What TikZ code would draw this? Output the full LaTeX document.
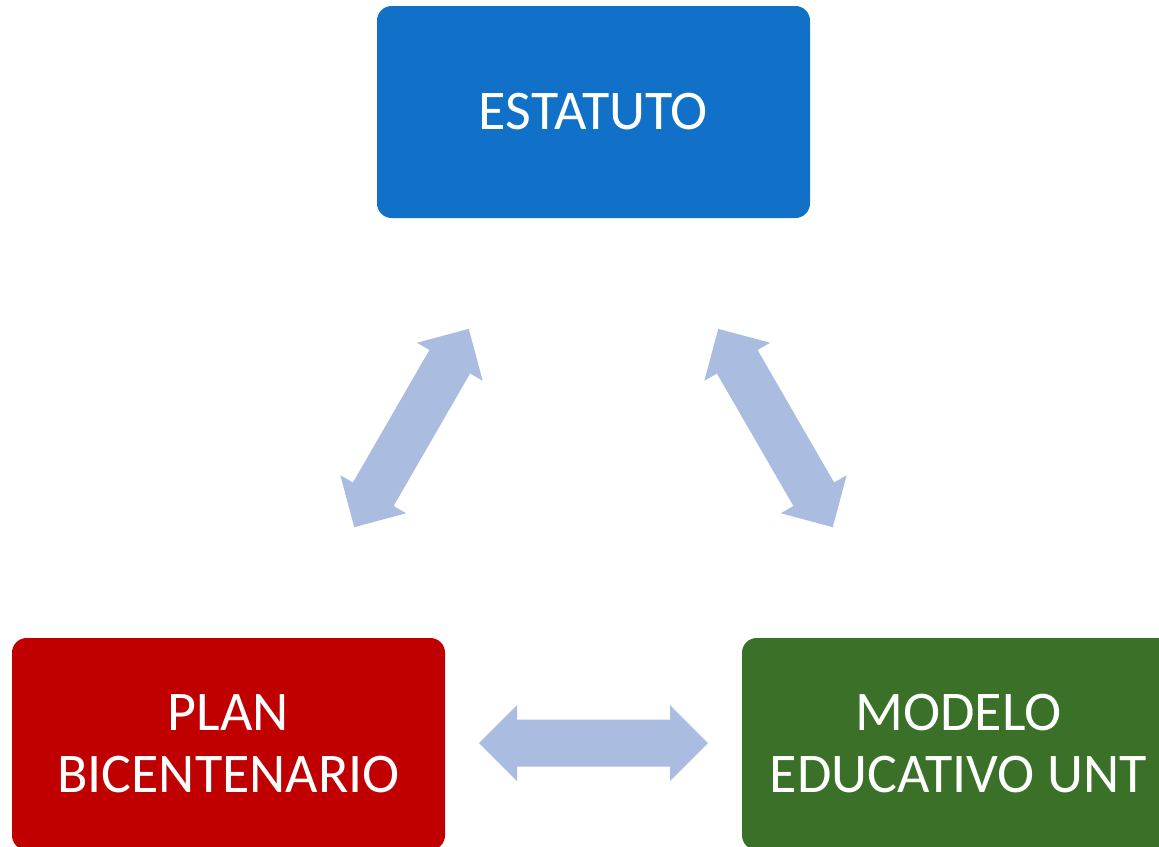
\documentclass[tikz,border=0pt]{standalone}
\usepackage{fontspec}
\setmainfont{Carlito}
\definecolor{boxblue}{RGB}{17,112,199}
\definecolor{boxred}{RGB}{192,0,0}
\definecolor{boxgreen}{RGB}{58,112,39}
\definecolor{arrowblue}{RGB}{171,188,225}
\begin{document}
\begin{tikzpicture}[x=0.75pt,y=-0.75pt,
  box/.style={rounded corners=11pt, minimum width=324.75pt, minimum height=159pt,
    inner sep=0pt, text=white, align=center,
    font=\fontsize{42}{46.5}\selectfont},
  blockarrow/.style={fill=arrowblue}]
\useasboundingbox (0,0) rectangle (1159,846);
\clip (0,0) rectangle (1159,846);
\node[box, fill=boxblue] (est) at (593.5,112) {ESTATUTO};
\node[box, fill=boxred] (plan) at (228.5,744) {PLAN\\BICENTENARIO};
\node[box, fill=boxgreen] (mod) at (958.5,744) {MODELO\\EDUCATIVO UNT};
\foreach \name/\cx/\cy/\ang in {arl/411.5/428/60, arr/775.5/428/-60, arb/593.5/743/0}{
  \begin{scope}[shift={(\cx,\cy)}, rotate=\ang]
    \fill[blockarrow] (-114.5,0) -- (-76.5,38) -- (-76.5,23.5) -- (76.5,23.5)
      -- (76.5,38) -- (114.5,0) -- (76.5,-38) -- (76.5,-23.5)
      -- (-76.5,-23.5) -- (-76.5,-38) -- cycle;
  \end{scope}
}
\end{tikzpicture}
\end{document}
